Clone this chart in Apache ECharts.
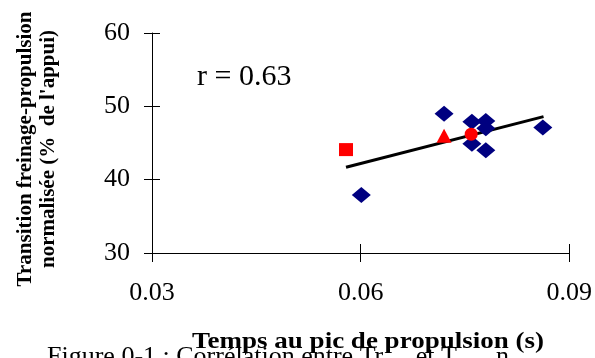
<!DOCTYPE html>
<html><head><meta charset="utf-8">
<script src="https://cdn.jsdelivr.net/npm/echarts@6/dist/echarts.min.js"></script>
<style>html,body{margin:0;padding:0;background:#fff}#c{width:595px;height:358px}</style>
</head><body><div id="c"></div>
<script>
var blueX = [0.0601, 0.0720, 0.0760, 0.0780, 0.0780, 0.0760, 0.0780, 0.0862];
var blueY = [37.9, 49.0, 47.9, 48.0, 47.0, 44.9, 44.0, 47.1];
var squareX = [0.0579], squareY = [44.1];
var triangleX = [0.0720], triangleY = [46.0];
var circleX = [0.0759], circleY = [46.2];
var trendX = [0.0579, 0.0863], trendY = [41.7, 48.6];
var xTicks = [0.03, 0.06, 0.09];
var yTicks = [30, 40, 50, 60];
var yTitle = ['Transition freinage-propulsion', "normalisée (%  de l'appui)"];
var xTitle = 'Temps au pic de propulsion (s)';
var rText = 'r = 0.63';
var caption = 'Figure 0-1 : Corrélation entre Tr     et T      n';

function zip(a, b) { return a.map(function (v, i) { return [v, b[i]]; }); }
var serif = '"Liberation Serif","Times New Roman",serif';
var chart = echarts.init(document.getElementById('c'));
var axisBase = {
  type: 'value', splitLine: {show: false},
  axisLine: {show: true, onZero: false, lineStyle: {color: '#000', width: 1}}
};
chart.setOption({
  animation: false,
  grid: {left: 152, right: 25, top: 33, bottom: 105, containLabel: false},
  xAxis: [
    Object.assign({}, axisBase, {min: xTicks[0], max: xTicks[2], interval: 0.03,
      axisTick: {show: true, length: 9, lineStyle: {color: '#000'}},
      axisLabel: {margin: 27, fontFamily: serif, fontSize: 26, color: '#000',
        formatter: function (v) { return v.toFixed(2); }}}),
    Object.assign({}, axisBase, {min: xTicks[0], max: xTicks[2], interval: 0.03, position: 'bottom',
      axisLine: {show: false}, axisLabel: {show: false},
      axisTick: {show: true, inside: true, length: 9, lineStyle: {color: '#000'}}})
  ],
  yAxis: [
    Object.assign({}, axisBase, {min: yTicks[0], max: yTicks[3], interval: 10,
      axisTick: {show: true, length: 8, lineStyle: {color: '#000'}},
      axisLabel: {margin: 22, fontFamily: serif, fontSize: 26, color: '#000'}}),
    Object.assign({}, axisBase, {min: yTicks[0], max: yTicks[3], interval: 10, position: 'left',
      axisLine: {show: false}, axisLabel: {show: false},
      axisTick: {show: true, inside: true, length: 8, lineStyle: {color: '#000'}}})
  ],
  series: [
    {type: 'line', data: zip(trendX, trendY), symbol: 'none', lineStyle: {color: '#000', width: 3}, z: 2},
    {type: 'scatter', data: zip(blueX, blueY), symbol: 'diamond', symbolSize: [19, 16],
      itemStyle: {color: '#000080', opacity: 1}, z: 3},
    {type: 'scatter', data: zip(squareX, squareY), symbol: 'rect', symbolSize: [14, 13],
      itemStyle: {color: '#ff0000', opacity: 1}, z: 4},
    {type: 'scatter', data: zip(triangleX, triangleY), symbol: 'triangle', symbolSize: [15, 14],
      itemStyle: {color: '#ff0000', opacity: 1}, z: 4},
    {type: 'scatter', data: zip(circleX, circleY), symbol: 'circle', symbolSize: 13,
      itemStyle: {color: '#ff0000', opacity: 1}, z: 4}
  ],
  graphic: [
    {type: 'text', x: 197, y: 62, style: {text: rText, font: '30px ' + serif, fill: '#000'}},
    {type: 'text', x: 37, y: 149, rotation: Math.PI / 2,
      style: {text: yTitle.join('\n'), font: 'bold 21px ' + serif, fill: '#000',
        textAlign: 'center', textVerticalAlign: 'middle', lineHeight: 23}},
    {type: 'text', x: 47, y: 344, style: {text: caption, font: '26px ' + serif, fill: '#000'}},
    {type: 'text', x: 368, y: 330, scaleY: 0.87,
      style: {text: xTitle, font: 'bold 27px ' + serif, fill: '#000', textAlign: 'center'}}
  ]
});
</script></body></html>
